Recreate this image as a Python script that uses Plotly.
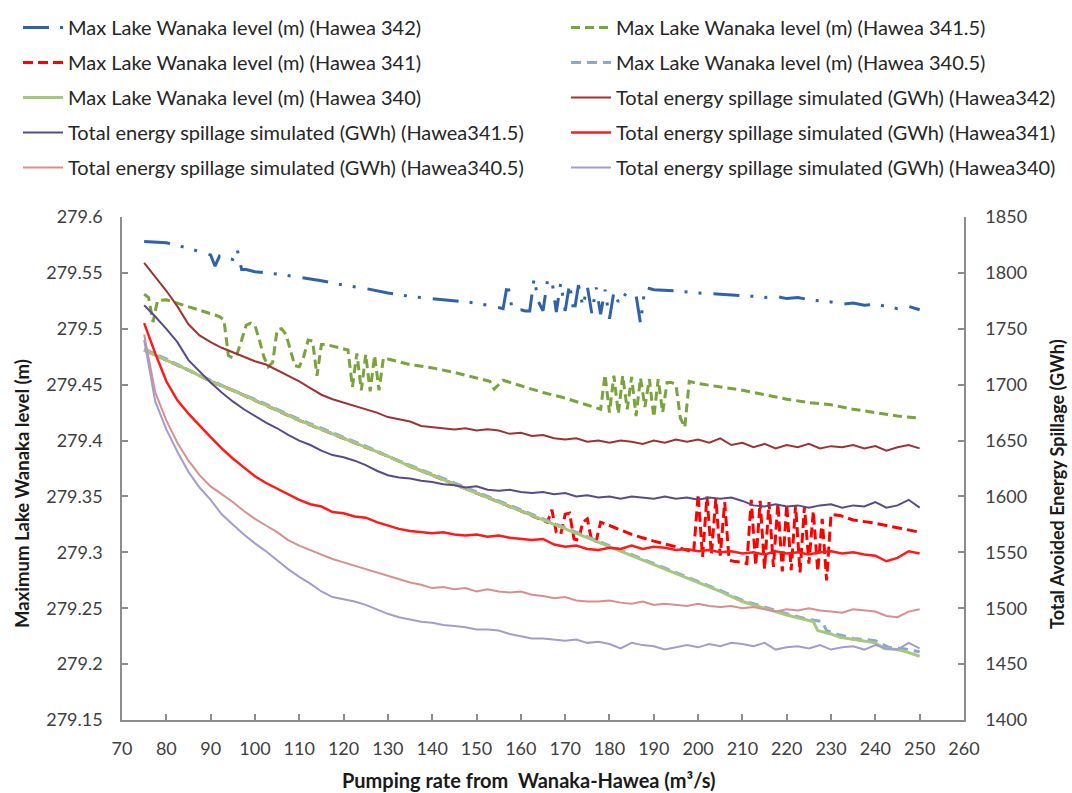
import plotly.graph_objects as go

# ---------------- Max Lake Wanaka level (m) ----------------
lvl_342_x = [75, 80, 85, 88, 89, 90, 91, 92, 93, 94, 95, 96, 97, 98, 100, 105, 110, 115, 120, 125,
             130, 135, 140, 145, 150, 155, 156, 157, 158, 159, 160, 161, 162, 163, 164, 165, 166,
             167, 168, 169, 170, 171, 172, 173, 174, 175, 176, 177, 178, 179, 180, 181, 182, 183,
             184, 185, 186, 187, 188, 189, 190, 195, 200, 205, 210, 212.5, 215, 217.5, 220, 222.5,
             225, 227.5, 230, 232.5, 235, 237.5, 240, 242.5, 245, 247.5, 250]
lvl_342 = [279.578, 279.577, 279.572, 279.568, 279.567, 279.566, 279.556, 279.565, 279.564, 279.563,
           279.562, 279.571, 279.553, 279.553, 279.551, 279.549, 279.546, 279.543, 279.539, 279.536,
           279.532, 279.529, 279.527, 279.525, 279.523, 279.519, 279.518, 279.541, 279.518, 279.517,
           279.517, 279.516, 279.516, 279.545, 279.524, 279.516, 279.543, 279.544, 279.515, 279.541,
           279.516, 279.540, 279.514, 279.539, 279.520, 279.538, 279.514, 279.537, 279.513, 279.535,
           279.509, 279.533, 279.524, 279.532, 279.529, 279.531, 279.530, 279.505, 279.537, 279.536,
           279.535, 279.534, 279.532, 279.531, 279.530, 279.529, 279.528, 279.529, 279.527, 279.528,
           279.526, 279.525, 279.524, 279.522, 279.523, 279.521, 279.522, 279.520, 279.518, 279.520,
           279.517]

lvl_3415_x = [75, 76, 77, 78, 80, 85, 90, 92, 93, 94, 95, 96, 97, 98, 99, 100, 101, 102, 103, 104,
              105, 106, 107, 108, 109, 110, 111, 112, 113, 114, 115, 116, 117, 118, 119, 120, 121,
              122, 123, 124, 125, 126, 127, 128, 129, 130, 135, 140, 145, 150, 153, 154, 156, 160,
              165, 170, 175, 178, 179, 180, 181, 182, 183, 184, 185, 186, 187, 188, 189, 190, 191,
              192, 193, 194, 195, 196, 197, 198, 200, 205, 210, 215, 220, 225, 230, 235, 240, 245, 250]
lvl_3415 = [279.531, 279.528, 279.506, 279.525, 279.526, 279.520, 279.514, 279.511, 279.508, 279.476,
            279.474, 279.478, 279.490, 279.503, 279.505, 279.503, 279.490, 279.475, 279.466, 279.470,
            279.499, 279.500, 279.495, 279.480, 279.467, 279.466, 279.475, 279.490, 279.489, 279.458,
            279.486, 279.486, 279.485, 279.484, 279.483, 279.482, 279.481, 279.448, 279.478, 279.445,
            279.477, 279.444, 279.476, 279.445, 279.474, 279.473, 279.468, 279.465, 279.461, 279.456,
            279.453, 279.446, 279.454, 279.449, 279.443, 279.438, 279.432, 279.428, 279.459, 279.425,
            279.458, 279.424, 279.458, 279.428, 279.457, 279.422, 279.456, 279.430, 279.455, 279.421,
            279.455, 279.425, 279.452, 279.452, 279.450, 279.420, 279.412, 279.453, 279.451, 279.448,
            279.445, 279.441, 279.437, 279.434, 279.432, 279.428, 279.425, 279.422, 279.420]

lvl_341_x = [75, 80, 85, 90, 95, 100, 105, 110, 115, 120, 125, 130, 135, 140, 145, 150, 155, 156,
             157, 160, 163, 166, 167, 168, 169, 170, 171, 172, 173, 174, 175, 176, 177, 178, 180,
             185, 190, 195, 199, 200, 201, 202, 203, 204, 205, 206, 207, 208, 210, 211, 212, 213,
             214, 215, 216, 217, 218, 219, 220, 221, 222, 223, 224, 225, 226, 227, 228, 229, 230,
             232, 235, 240, 245, 250]
lvl_341 = [279.481, 279.472, 279.463, 279.453, 279.445, 279.436, 279.427, 279.418, 279.410, 279.402,
           279.394, 279.386, 279.377, 279.369, 279.361, 279.353, 279.345, 279.344, 279.342, 279.337,
           279.332, 279.327, 279.338, 279.318, 279.316, 279.334, 279.335, 279.312, 279.311, 279.327,
           279.330, 279.310, 279.310, 279.327, 279.324, 279.316, 279.310, 279.305, 279.300, 279.352,
           279.296, 279.350, 279.298, 279.348, 279.297, 279.345, 279.293, 279.292, 279.291, 279.290,
           279.347, 279.288, 279.346, 279.285, 279.345, 279.287, 279.344, 279.283, 279.343, 279.284,
           279.342, 279.282, 279.341, 279.290, 279.337, 279.283, 279.330, 279.275, 279.334, 279.333,
           279.329, 279.326, 279.322, 279.318]

lvl_3405_x = [75, 80, 85, 90, 95, 100, 105, 110, 115, 120, 125, 130, 135, 140, 145, 150, 155, 160,
              165, 170, 175, 180, 185, 190, 195, 200, 205, 210, 215, 220, 225, 228, 229, 232, 235,
              240, 243, 246, 250]
lvl_3405 = [279.482, 279.473, 279.463, 279.454, 279.445, 279.437, 279.428, 279.419, 279.411, 279.403,
            279.395, 279.386, 279.378, 279.370, 279.362, 279.354, 279.346, 279.338, 279.330, 279.322,
            279.314, 279.306, 279.298, 279.290, 279.282, 279.274, 279.266, 279.257, 279.251, 279.245,
            279.240, 279.238, 279.230, 279.226, 279.223, 279.221, 279.215, 279.214, 279.211]

lvl_340_x = [75, 80, 85, 90, 95, 100, 105, 110, 115, 120, 125, 130, 135, 140, 145, 150, 155, 160,
             165, 170, 175, 180, 185, 190, 195, 200, 205, 210, 215, 220, 225, 226, 227, 230, 232,
             235, 237, 240, 242, 245, 247, 250]
lvl_340 = [279.481, 279.472, 279.463, 279.453, 279.445, 279.436, 279.427, 279.418, 279.410, 279.402,
           279.394, 279.386, 279.377, 279.369, 279.361, 279.353, 279.345, 279.337, 279.329, 279.321,
           279.313, 279.305, 279.297, 279.289, 279.281, 279.273, 279.265, 279.256, 279.250, 279.244,
           279.239, 279.238, 279.230, 279.227, 279.224, 279.222, 279.221, 279.219, 279.214, 279.213,
           279.211, 279.207]

# ---------------- Total energy spillage simulated (GWh) ----------------
spill_x = [75 + 2.5 * i for i in range(71)]

spill_342 = [1809, 1797, 1784, 1770, 1754, 1744, 1738, 1733, 1729, 1725, 1721, 1718, 1713, 1708,
             1703, 1697, 1691, 1687, 1684, 1681, 1678, 1675, 1671, 1669, 1667, 1663, 1662, 1661,
             1660, 1661, 1659, 1660, 1659, 1656, 1657, 1654, 1655, 1652, 1651, 1652, 1649, 1650,
             1648, 1650, 1649, 1647, 1650, 1648, 1651, 1649, 1651, 1648, 1652, 1646, 1648, 1644,
             1647, 1643, 1646, 1644, 1647, 1643, 1645, 1644, 1646, 1643, 1645, 1641, 1644, 1646, 1643]

spill_3415 = [1771, 1761, 1750, 1738, 1722, 1712, 1702, 1693, 1685, 1678, 1672, 1666, 1661, 1655,
              1650, 1646, 1641, 1637, 1635, 1632, 1628, 1623, 1619, 1617, 1616, 1614, 1613, 1611,
              1610, 1608, 1609, 1606, 1605, 1606, 1604, 1603, 1604, 1602, 1603, 1600, 1601, 1599,
              1600, 1598, 1600, 1599, 1598, 1600, 1598, 1599, 1597, 1599, 1598, 1599, 1596, 1592,
              1591, 1593, 1591, 1592, 1590, 1592, 1593, 1590, 1592, 1591, 1595, 1590, 1592, 1597, 1590]

spill_341 = [1755, 1728, 1703, 1686, 1674, 1663, 1653, 1643, 1634, 1626, 1618, 1612, 1607, 1602,
             1597, 1593, 1591, 1586, 1585, 1582, 1581, 1577, 1574, 1571, 1569, 1568, 1567, 1568,
             1566, 1565, 1566, 1564, 1565, 1563, 1562, 1561, 1562, 1557, 1555, 1556, 1553, 1552,
             1554, 1553, 1556, 1553, 1555, 1554, 1552, 1553, 1551, 1552, 1550, 1551, 1549, 1550,
             1548, 1551, 1549, 1550, 1548, 1550, 1551, 1549, 1550, 1548, 1547, 1542, 1545, 1551, 1549]

spill_3405 = [1745, 1693, 1668, 1648, 1632, 1619, 1609, 1602, 1595, 1587, 1580, 1574, 1568, 1561,
              1556, 1552, 1548, 1544, 1541, 1538, 1535, 1532, 1529, 1526, 1523, 1521, 1518, 1519,
              1517, 1518, 1515, 1517, 1515, 1514, 1515, 1512, 1511, 1509, 1510, 1507, 1506, 1506,
              1507, 1505, 1504, 1506, 1503, 1504, 1503, 1502, 1504, 1502, 1501, 1502, 1500, 1501,
              1499, 1497, 1499, 1498, 1500, 1498, 1497, 1496, 1499, 1498, 1497, 1493, 1492, 1497, 1499]

spill_340 = [1740, 1685, 1660, 1640, 1622, 1608, 1597, 1584, 1575, 1566, 1558, 1551, 1543, 1535,
             1528, 1522, 1515, 1510, 1508, 1506, 1503, 1499, 1495, 1492, 1490, 1488, 1487, 1485,
             1484, 1483, 1481, 1481, 1480, 1477, 1475, 1473, 1473, 1472, 1471, 1472, 1469, 1470,
             1468, 1464, 1469, 1467, 1466, 1463, 1465, 1467, 1465, 1468, 1466, 1469, 1468, 1466,
             1469, 1463, 1465, 1466, 1464, 1467, 1463, 1465, 1466, 1463, 1467, 1464, 1463, 1469, 1464]

# ---------------- axis ticks ----------------
x_ticks = [70, 80, 90, 100, 110, 120, 130, 140, 150, 160, 170, 180, 190, 200, 210, 220, 230, 240, 250, 260]
y_left_ticks = [279.15, 279.2, 279.25, 279.3, 279.35, 279.4, 279.45, 279.5, 279.55, 279.6]
y_left_labels = ["279.15", "279.2", "279.25", "279.3", "279.35", "279.4", "279.45", "279.5", "279.55", "279.6"]
y_right_ticks = [1400, 1450, 1500, 1550, 1600, 1650, 1700, 1750, 1800, 1850]

FONT = "Lato"
AXIS_COLOR = "#8c8c8c"
TEXT_COLOR = "#404040"

fig = go.Figure()


def add(x, y, name, color, width, dash, legend, yaxis="y"):
    fig.add_trace(go.Scatter(
        x=x, y=y, name=name, mode="lines", yaxis=yaxis,
        line=dict(color=color, width=width, dash=dash),
        legend=legend, legendgroup=name,
    ))


# lake levels (left axis)
add(lvl_342_x, lvl_342, "Max Lake Wanaka level (m) (Hawea 342)", "#2E63AC", 3,
    "26px,11px,3px,11px,3px,12px", "legend")
add(lvl_3415_x, lvl_3415, "Max Lake Wanaka level (m) (Hawea 341.5)", "#7AA33B", 3, "9px,5px", "legend2")
add(lvl_341_x, lvl_341, "Max Lake Wanaka level (m) (Hawea 341)", "#FF0000", 3, "10px,5px", "legend")
add(lvl_3405_x, lvl_3405, "Max Lake Wanaka level (m) (Hawea 340.5)", "#8DA6DA", 3, "10px,6px", "legend2")
add(lvl_340_x, lvl_340, "Max Lake Wanaka level (m) (Hawea 340)", "#A6C77E", 3, "solid", "legend")

# spillage (right axis)
add(spill_x, spill_342, "Total energy spillage simulated (GWh) (Hawea342)", "#9E3432", 2, "solid", "legend2", "y2")
add(spill_x, spill_3415, "Total energy spillage simulated (GWh) (Hawea341.5)", "#5A4A8A", 2, "solid", "legend", "y2")
add(spill_x, spill_341, "Total energy spillage simulated (GWh) (Hawea341)", "#FF1A1A", 2.5, "solid", "legend2", "y2")
add(spill_x, spill_3405, "Total energy spillage simulated (GWh) (Hawea340.5)", "#D98F8D", 2, "solid", "legend", "y2")
add(spill_x, spill_340, "Total energy spillage simulated (GWh) (Hawea340)", "#A29DCC", 2, "solid", "legend2", "y2")

# plot area spans x 122..964 px and y 217..720 px
PX_L, PX_R, PX_T, PX_B = 122, 964, 217, 720


def paper_x(px):
    return (px - PX_L) / (PX_R - PX_L)


def paper_y(py):
    return (PX_B - py) / (PX_B - PX_T)


legend_style = dict(
    font=dict(family=FONT, size=20, color="#262626"),
    bgcolor="rgba(0,0,0,0)", borderwidth=0, orientation="v",
    tracegroupgap=6, itemwidth=40, xanchor="left", yanchor="top",
    itemclick=False, itemdoubleclick=False,
)

axis_common = dict(
    showline=True, linecolor=AXIS_COLOR, linewidth=1.5,
    ticks="inside", ticklen=6, tickcolor=AXIS_COLOR, tickwidth=1.5,
    showgrid=False, zeroline=False,
    tickfont=dict(family=FONT, size=18, color=TEXT_COLOR),
)

fig.update_layout(
    width=1072, height=793,
    margin=dict(l=PX_L, r=1072 - PX_R, t=PX_T, b=793 - PX_B, autoexpand=False),
    paper_bgcolor="white", plot_bgcolor="white",
    font=dict(family=FONT, color=TEXT_COLOR),
    showlegend=True,
    legend=dict(x=paper_x(18), y=paper_y(8), **legend_style),
    legend2=dict(x=paper_x(566), y=paper_y(8), **legend_style),
    xaxis=dict(range=[70, 260], tickvals=x_ticks, ticklabelstandoff=12, **axis_common),
    yaxis=dict(range=[279.15, 279.6], tickvals=y_left_ticks, ticktext=y_left_labels,
               ticklabelstandoff=14, **axis_common),
    yaxis2=dict(range=[1400, 1850], tickvals=y_right_ticks, overlaying="y", side="right",
                ticklabelstandoff=16, **axis_common),
)

fig.add_annotation(text="<b>Pumping rate from  Wanaka-Hawea (m³/s)</b>", xref="paper", yref="paper",
                   x=paper_x(529), y=paper_y(780), xanchor="center", yanchor="middle",
                   showarrow=False, font=dict(family=FONT, size=20, color="#1a1a1a"))
fig.add_annotation(text="<b>Maximum Lake Wanaka level (m)</b>", xref="paper", yref="paper",
                   x=paper_x(22), y=paper_y(494), xanchor="center", yanchor="middle",
                   textangle=-90, showarrow=False, font=dict(family=FONT, size=18.5, color="#1a1a1a"))
fig.add_annotation(text="<b>Total Avoided Energy Spillage (GWh)</b>", xref="paper", yref="paper",
                   x=paper_x(1057), y=paper_y(484), xanchor="center", yanchor="middle",
                   textangle=-90, showarrow=False, font=dict(family=FONT, size=18, color="#1a1a1a"))

fig.write_html("out.html")
